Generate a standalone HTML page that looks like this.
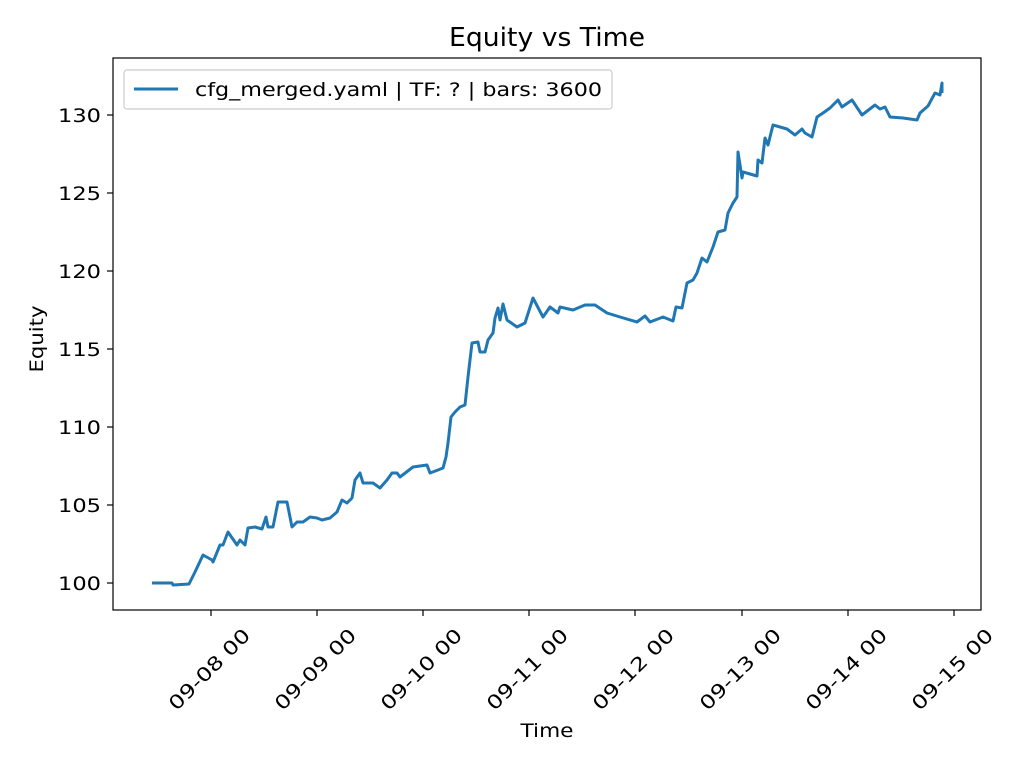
<!DOCTYPE html>
<html><head><meta charset="utf-8"><style>body{margin:0;background:#fff}svg{display:block}text{font-family:"DejaVu Sans","Liberation Sans",sans-serif;fill:#000}</style></head>
<body>
<svg width="1024" height="768" viewBox="0 0 1024 768" xmlns="http://www.w3.org/2000/svg">
<rect width="1024" height="768" fill="#fff"/>
<text x="547" y="46" font-size="26" text-anchor="middle" textLength="196" lengthAdjust="spacingAndGlyphs">Equity vs Time</text>
<polyline fill="none" stroke="#1f77b4" stroke-width="3" stroke-linejoin="round" points="
152,583 172,583 173,585 189,584 195,572 203,555 212,560 213,562 220,545 223,545 228,532 237,545 240,540 245,545 248,528 255,527 262,529 266,517 268,527 273,527 278,502 287,502 292,527 297,522 303,522 310,517 317,518 322,520 330,518 337,512 342,500 347,503 352,498 355,480 360,473 363,483 373,483 380,488 387,480 392,473 397,473 400,477 413,467 427,465 430,473 438,470 443,468 446,457 448,443 451,417 455,412 460,407 465,405 468,377 472,343 478,342 480,352 485,352 488,340 493,333 495,318 498,308 500,320 503,304 507,320 517,327 525,323 533,298 543,317 550,307 558,313 560,307 573,310 585,305 595,305 607,313 620,317 637,322 645,316 650,322 663,317 673,321 676,307 682,308 687,283 693,280 697,273 702,258 707,262 713,247 718,232 725,230 728,213 733,203 737,197 738,152 742,178 743,172 757,176 758,160 762,163 765,138 768,145 773,125 787,129 795,135 802,129 805,133 812,137 817,117 823,113 830,108 838,100 842,107 852,100 862,115 875,105 880,109 885,107 890,117 903,118 917,120 920,113 928,106 935,93 940,95 942,83 942,93"/>
<rect x="113" y="58" width="868" height="552" fill="none" stroke="#000" stroke-width="1.2"/>
<g stroke="#000" stroke-width="1.2">
<line x1="113" x2="107" y1="583" y2="583"/><line x1="113" x2="107" y1="505" y2="505"/><line x1="113" x2="107" y1="427" y2="427"/><line x1="113" x2="107" y1="349" y2="349"/><line x1="113" x2="107" y1="271" y2="271"/><line x1="113" x2="107" y1="193" y2="193"/><line x1="113" x2="107" y1="115" y2="115"/>
<line x1="211" x2="211" y1="610" y2="616"/><line x1="317" x2="317" y1="610" y2="616"/><line x1="423" x2="423" y1="610" y2="616"/><line x1="529" x2="529" y1="610" y2="616"/><line x1="635" x2="635" y1="610" y2="616"/><line x1="742" x2="742" y1="610" y2="616"/><line x1="848" x2="848" y1="610" y2="616"/><line x1="954" x2="954" y1="610" y2="616"/>
</g>
<g font-size="19" text-anchor="end">
<text x="101" y="590" textLength="43" lengthAdjust="spacingAndGlyphs">100</text><text x="101" y="512" textLength="43" lengthAdjust="spacingAndGlyphs">105</text><text x="101" y="434" textLength="43" lengthAdjust="spacingAndGlyphs">110</text><text x="101" y="356" textLength="43" lengthAdjust="spacingAndGlyphs">115</text><text x="101" y="278" textLength="43" lengthAdjust="spacingAndGlyphs">120</text><text x="101" y="200" textLength="43" lengthAdjust="spacingAndGlyphs">125</text><text x="101" y="122" textLength="43" lengthAdjust="spacingAndGlyphs">130</text>
</g>
<g font-size="19" text-anchor="middle">
<text transform="translate(214,674) rotate(-45)" textLength="106" lengthAdjust="spacingAndGlyphs">09-08 00</text>
<text transform="translate(320,674) rotate(-45)" textLength="106" lengthAdjust="spacingAndGlyphs">09-09 00</text>
<text transform="translate(426,674) rotate(-45)" textLength="106" lengthAdjust="spacingAndGlyphs">09-10 00</text>
<text transform="translate(532,674) rotate(-45)" textLength="106" lengthAdjust="spacingAndGlyphs">09-11 00</text>
<text transform="translate(638,674) rotate(-45)" textLength="106" lengthAdjust="spacingAndGlyphs">09-12 00</text>
<text transform="translate(745,674) rotate(-45)" textLength="106" lengthAdjust="spacingAndGlyphs">09-13 00</text>
<text transform="translate(851,674) rotate(-45)" textLength="106" lengthAdjust="spacingAndGlyphs">09-14 00</text>
<text transform="translate(957,674) rotate(-45)" textLength="106" lengthAdjust="spacingAndGlyphs">09-15 00</text>
</g>
<text x="547" y="737" font-size="19" text-anchor="middle" textLength="53" lengthAdjust="spacingAndGlyphs">Time</text>
<text transform="translate(43,339) rotate(-90)" font-size="19" text-anchor="middle" textLength="67" lengthAdjust="spacingAndGlyphs">Equity</text>
<rect x="124" y="70" width="488" height="39" rx="3" fill="#fff" stroke="#ccc" stroke-width="1.2"/>
<line x1="134" x2="178" y1="89" y2="89" stroke="#1f77b4" stroke-width="3"/>
<text x="195" y="96" font-size="19" textLength="407" lengthAdjust="spacingAndGlyphs">cfg_merged.yaml | TF: ? | bars: 3600</text>
</svg>
</body></html>
